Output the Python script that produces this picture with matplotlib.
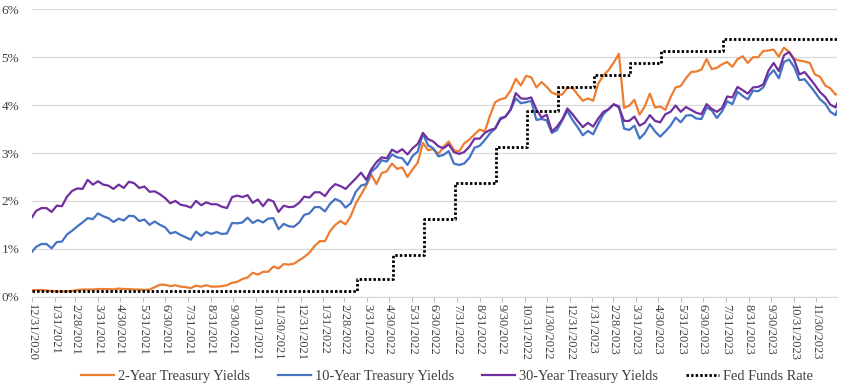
import matplotlib
matplotlib.use("Agg")
import matplotlib.pyplot as plt
import matplotlib.dates as mdates
from matplotlib.ticker import FixedLocator
import pandas as pd

# ---------------- data (weekly samples, % yields) ----------------
start_date = "2020-12-31"
end_date = "2023-12-29"

two_year = [
    0.13,
    # 2021
    0.14, 0.14, 0.13, 0.12,
    0.11, 0.11, 0.11, 0.12,
    0.14, 0.15, 0.15, 0.15, 0.16,
    0.16, 0.16, 0.15, 0.17,
    0.16, 0.16, 0.15, 0.15,
    0.14, 0.15, 0.20, 0.25, 0.25,
    0.22, 0.24, 0.21, 0.20,
    0.18, 0.23, 0.21, 0.24,
    0.21, 0.21, 0.22, 0.24, 0.29,
    0.31, 0.37, 0.40, 0.50,
    0.46, 0.52, 0.52, 0.63,
    0.59, 0.68, 0.67, 0.69, 0.76,
    # 2022
    0.83, 0.92, 1.06, 1.16,
    1.16, 1.37, 1.50, 1.58,
    1.51, 1.68, 1.95, 2.13, 2.32,
    2.55, 2.35, 2.58, 2.62,
    2.78, 2.67, 2.70, 2.50,
    2.66, 2.80, 3.21, 3.06, 3.08,
    2.98, 3.13, 3.24, 3.06,
    3.03, 3.20, 3.28, 3.39, 3.49,
    3.45, 3.78, 4.06, 4.12,
    4.15, 4.30, 4.55, 4.41,
    4.61, 4.58, 4.37, 4.48, 4.38,
    4.26, 4.22, 4.22, 4.36,
    # 2023
    4.36, 4.22, 4.09, 4.14,
    4.09, 4.45, 4.62, 4.73,
    4.89, 5.07, 3.94, 3.99, 4.11,
    3.80, 3.97, 4.24, 3.95,
    3.97, 3.90, 4.16, 4.37, 4.40,
    4.56, 4.69, 4.70, 4.74,
    4.96, 4.75, 4.78, 4.85,
    4.90, 4.80, 4.96, 5.02, 4.88,
    5.00, 5.00, 5.13, 5.14,
    5.16, 5.01, 5.20, 5.11,
    4.96, 4.93, 4.91, 4.88, 4.64,
    4.59, 4.41, 4.35, 4.22,
    4.23,
]

ten_year = [
    0.93,
    # 2021
    1.04, 1.10, 1.10, 1.01,
    1.14, 1.15, 1.30, 1.38,
    1.47, 1.55, 1.64, 1.62, 1.74,
    1.68, 1.64, 1.56, 1.63,
    1.59, 1.69, 1.68, 1.58,
    1.61, 1.50, 1.57, 1.50, 1.45,
    1.32, 1.35, 1.29, 1.24,
    1.19, 1.36, 1.27, 1.35,
    1.31, 1.35, 1.31, 1.32, 1.54,
    1.53, 1.55, 1.65, 1.54,
    1.60, 1.55, 1.63, 1.64,
    1.41, 1.52, 1.47, 1.46, 1.55,
    # 2022
    1.71, 1.74, 1.87, 1.87,
    1.78, 1.94, 2.04, 1.99,
    1.86, 1.95, 2.19, 2.32, 2.35,
    2.61, 2.70, 2.85, 2.82,
    2.97, 2.91, 2.89, 2.75,
    2.94, 3.03, 3.40, 3.16, 3.10,
    2.93, 2.96, 3.04, 2.78,
    2.75, 2.78, 2.90, 3.11, 3.15,
    3.27, 3.41, 3.51, 3.73,
    3.76, 3.90, 4.14, 4.04,
    4.06, 4.09, 3.69, 3.71, 3.68,
    3.42, 3.48, 3.68, 3.88,
    # 2023
    3.69, 3.54, 3.37, 3.46,
    3.39, 3.61, 3.81, 3.92,
    4.01, 3.98, 3.51, 3.48, 3.57,
    3.30, 3.41, 3.60, 3.45,
    3.34, 3.45, 3.57, 3.74, 3.64,
    3.78, 3.79, 3.72, 3.71,
    3.95, 3.89, 3.73, 3.87,
    4.08, 4.02, 4.28, 4.19, 4.12,
    4.30, 4.29, 4.37, 4.61,
    4.73, 4.56, 4.90, 4.95,
    4.79, 4.52, 4.54, 4.41, 4.27,
    4.12, 4.03, 3.86, 3.79,
    3.88,
]

thirty_year = [
    1.65,
    # 2021
    1.79, 1.85, 1.85, 1.77,
    1.90, 1.89, 2.09, 2.21,
    2.26, 2.25, 2.44, 2.34, 2.41,
    2.34, 2.32, 2.25, 2.34,
    2.27, 2.40, 2.37, 2.27,
    2.30, 2.19, 2.20, 2.14, 2.06,
    1.95, 2.00, 1.92, 1.90,
    1.86, 2.00, 1.91, 1.97,
    1.93, 1.93, 1.88, 1.85, 2.08,
    2.11, 2.08, 2.12, 1.96,
    2.03, 1.89, 2.03, 1.99,
    1.77, 1.90, 1.87, 1.88, 1.96,
    # 2022
    2.09, 2.07, 2.18, 2.18,
    2.10, 2.25, 2.35, 2.31,
    2.25, 2.36, 2.47, 2.59, 2.44,
    2.66, 2.81, 2.91, 2.89,
    3.07, 3.01, 3.08, 2.97,
    3.10, 3.19, 3.42, 3.29, 3.24,
    3.14, 3.10, 3.18, 3.02,
    2.98, 3.02, 3.13, 3.30, 3.30,
    3.42, 3.48, 3.51, 3.70,
    3.76, 3.91, 4.25, 4.14,
    4.13, 4.16, 3.91, 3.74, 3.80,
    3.45, 3.55, 3.70, 3.93,
    # 2023
    3.81, 3.67, 3.54, 3.63,
    3.55, 3.72, 3.86, 3.91,
    4.02, 3.95, 3.67, 3.67, 3.76,
    3.57, 3.63, 3.79, 3.67,
    3.64, 3.81, 3.86, 3.99, 3.86,
    3.96, 3.90, 3.84, 3.81,
    4.02, 3.92, 3.86, 3.94,
    4.18, 4.16, 4.38, 4.31, 4.24,
    4.37, 4.38, 4.43, 4.72,
    4.88, 4.71, 5.04, 5.11,
    4.94, 4.64, 4.69, 4.56, 4.42,
    4.27, 4.17, 4.01, 3.95,
    4.03,
]

fed_change_dates = ["2020-12-31", "2022-03-17", "2022-05-05", "2022-06-16",
                    "2022-07-28", "2022-09-22", "2022-11-03", "2022-12-15",
                    "2023-02-02", "2023-03-23", "2023-05-04", "2023-07-27"]
fed_rates = [0.125, 0.375, 0.875, 1.625, 2.375, 3.125, 3.875, 4.375,
             4.625, 4.875, 5.125, 5.375]

series_labels = ["2-Year Treasury Yields", "10-Year Treasury Yields",
                 "30-Year Treasury Yields", "Fed Funds Rate"]
y_ticks = [0, 1, 2, 3, 4, 5, 6]

# ---------------- build dates ----------------
dates = ([pd.Timestamp(start_date)]
         + list(pd.date_range("2021-01-06", "2023-12-27", freq="W-WED"))
         + [pd.Timestamp(end_date)])
n = min(len(dates), len(two_year), len(ten_year), len(thirty_year))
dates = dates[:n]

fed_x = [pd.Timestamp(d) for d in fed_change_dates] + [pd.Timestamp(end_date)]
fed_y = fed_rates + [fed_rates[-1]]

month_ends = []
d = pd.Timestamp(start_date)
while d <= pd.Timestamp("2023-11-30"):
    month_ends.append(d)
    d = (d + pd.offsets.MonthEnd(1))

# ---------------- plot ----------------
W, H = 845, 388
fig = plt.figure(figsize=(W / 100, H / 100), dpi=100)
left, right, top, bottom = 31.7, 837.0, 9.3, 296.7
ax = fig.add_axes([left / W, 1 - bottom / H, (right - left) / W, (bottom - top) / H])

font = "Liberation Serif"
txt_color = "#404040"

ax.plot(dates, two_year[:n], color="#ED7D31", lw=1.6, label=series_labels[0], zorder=3)
ax.plot(dates, ten_year[:n], color="#4472C4", lw=1.6, label=series_labels[1], zorder=3)
ax.plot(dates, thirty_year[:n], color="#7030A0", lw=1.6, label=series_labels[2], zorder=4)
ax.plot(fed_x, fed_y, color="black", lw=2.0, drawstyle="steps-post",
        linestyle=(0, (0.9, 0.75)), dash_capstyle="butt", label=series_labels[3], zorder=5)

ax.set_xlim(pd.Timestamp(start_date), pd.Timestamp(end_date))
ax.set_ylim(0, 6)
ax.set_yticks(y_ticks)
ax.set_yticklabels([f"{v}%" for v in y_ticks], fontname=font, fontsize=9.5, color=txt_color)
ax.yaxis.grid(True, color="#D9D9D9", lw=0.9)
ax.set_axisbelow(True)
ax.tick_params(axis="y", length=0, pad=9)

ax.xaxis.set_major_locator(FixedLocator(mdates.date2num(month_ends)))
ax.set_xticklabels([f"{m.month}/{m.day}/{m.year}" for m in month_ends],
                   rotation=270, fontname=font, fontsize=9, color=txt_color,
                   ha="center", va="top")
ax.tick_params(axis="x", length=3.5, width=0.8, color="#BFBFBF", pad=2)

for s in ["left", "right", "top"]:
    ax.spines[s].set_visible(False)
ax.spines["bottom"].set_color("#D9D9D9")
ax.spines["bottom"].set_linewidth(0.9)

leg = fig.legend(loc="center", bbox_to_anchor=(447 / W, 1 - 376 / H), ncol=4, frameon=False,
                 prop={"family": font, "size": 10.4}, handlelength=2.3,
                 handletextpad=0.3, columnspacing=1.9, labelcolor=txt_color)

fig.savefig("out.png", dpi=100)
